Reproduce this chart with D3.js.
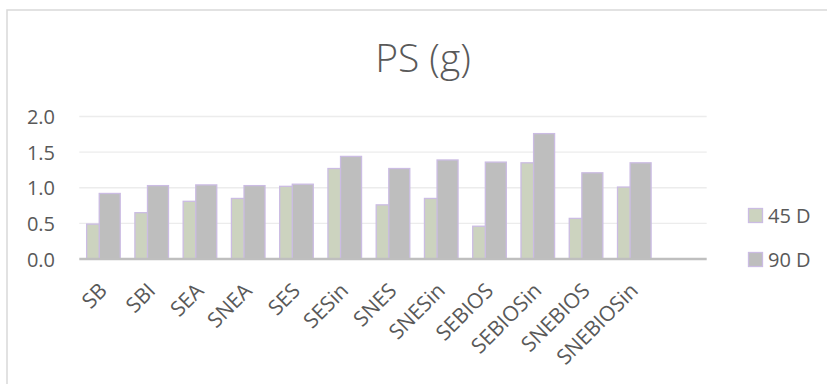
<!DOCTYPE html>
<html>
<head>
<meta charset="utf-8">
<script src="https://cdn.jsdelivr.net/npm/d3@7"></script>
<style>
  body { margin: 0; background: #fff; }
  svg text { font-family: "Open Sans", "Noto Sans", sans-serif; fill: #595959; }
</style>
</head>
<body>
<svg id="chart" width="827" height="384"></svg>
<script>
// Chart data
var categories = ["SB", "SBI", "SEA", "SNEA", "SES", "SESin", "SNES", "SNESin", "SEBIOS", "SEBIOSin", "SNEBIOS", "SNEBIOSin"];
var series45 = [0.49, 0.65, 0.81, 0.85, 1.02, 1.27, 0.76, 0.85, 0.46, 1.35, 0.57, 1.01];
var series90 = [0.92, 1.03, 1.04, 1.03, 1.05, 1.44, 1.27, 1.39, 1.36, 1.76, 1.21, 1.35];
var seriesNames = ["45 D", "90 D"];
var yTicks = [0, 0.5, 1.0, 1.5, 2.0];

var svg = d3.select("#chart");

// Outer chart border (right/bottom edges fall outside the picture)
svg.append("rect")
    .attr("x", 7).attr("y", 10)
    .attr("width", 840).attr("height", 400)
    .attr("fill", "none")
    .attr("stroke", "#d9d9d9")
    .attr("stroke-width", 1.5);

// Title
svg.append("text")
    .attr("x", 423).attr("y", 72)
    .attr("text-anchor", "middle")
    .attr("font-size", 39)
    .attr("font-weight", 300)
    .text("PS (g)");

// Scales - the category axis has one extra empty slot at the end
var x = d3.scaleBand()
    .domain(categories.concat([""]))
    .range([79.3, 706.7])
    .paddingInner(0).paddingOuter(0);

var y = d3.scaleLinear()
    .domain([0, 2])
    .range([259, 116.5]);

// Gridlines
svg.append("g")
    .selectAll("line")
    .data(yTicks.slice(1))
    .join("line")
    .attr("x1", 79.3).attr("x2", 706.7)
    .attr("y1", function(d) { return y(d); })
    .attr("y2", function(d) { return y(d); })
    .attr("stroke", "#ececec")
    .attr("stroke-width", 1.3);

// Y axis labels
var yAxis = d3.axisLeft(y)
    .tickValues(yTicks)
    .tickFormat(d3.format(".1f"))
    .tickSize(0)
    .tickPadding(0);
var yg = svg.append("g")
    .attr("transform", "translate(55,0)")
    .call(yAxis);
yg.select(".domain").remove();
yg.selectAll("text")
    .attr("font-size", 20)
    .attr("fill", "#595959")
    .attr("dy", "0.35em");

// Bars: 21px wide, 90 D overlaps 45 D
var bw = 21;
var step = 12.6;
var groupW = bw + step;
function barX(d, i, k) {
    return x(categories[i]) + (x.bandwidth() - groupW) / 2 + k * step;
}

var fills = ["#ccd3bf", "#bebebe"];
var strokeCol = "#cbbce3";

[series45, series90].forEach(function(vals, k) {
    svg.append("g")
        .selectAll("rect")
        .data(vals)
        .join("rect")
        .attr("x", function(d, i) { return barX(d, i, k); })
        .attr("y", function(d) { return y(d); })
        .attr("width", bw)
        .attr("height", function(d) { return y(0) - y(d); })
        .attr("fill", fills[k])
        .attr("stroke", strokeCol)
        .attr("stroke-width", 1.3);
});

// Category axis line
svg.append("line")
    .attr("x1", 79.3).attr("x2", 706.7)
    .attr("y1", y(0)).attr("y2", y(0))
    .attr("stroke", "#bfbfbf")
    .attr("stroke-width", 2.5);

// X axis labels rotated -45
var xAxis = d3.axisBottom(x).tickSize(0).tickPadding(0);
var xg = svg.append("g")
    .attr("transform", "translate(0," + y(0) + ")")
    .call(xAxis);
xg.select(".domain").remove();
xg.selectAll("text")
    .attr("font-size", 21)
    .attr("fill", "#595959")
    .attr("text-anchor", "end")
    .attr("dy", 0)
    .attr("transform", "translate(5,33) rotate(-45)");

// Legend
var legend = svg.append("g")
    .selectAll("g")
    .data(seriesNames)
    .join("g")
    .attr("transform", function(d, i) { return "translate(748.5," + (208.5 + i * 44) + ")"; });
legend.append("rect")
    .attr("width", 14).attr("height", 14)
    .attr("fill", function(d, i) { return fills[i]; })
    .attr("stroke", strokeCol)
    .attr("stroke-width", 1.3);
legend.append("text")
    .attr("x", 19.5).attr("y", 7)
    .attr("dy", "0.36em")
    .attr("font-size", 20)
    .text(function(d) { return d; });
</script>
</body>
</html>
